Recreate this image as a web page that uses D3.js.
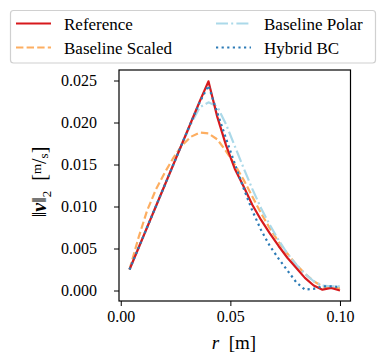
<!DOCTYPE html>
<html lang="en">
<head>
    <meta charset="UTF-8">
    <script src="https://cdn.jsdelivr.net/npm/d3@7"></script>
    <title>velocity profile</title>
    <style>body{margin:0;background:#fff;}</style>
</head>
<body>
    <svg width="386" height="361"></svg>
    <script>
        // radial positions [m]
        const radius = [0.004, 0.008, 0.012, 0.016, 0.020, 0.024, 0.028, 0.032, 0.036, 0.040,
                        0.044, 0.048, 0.052, 0.056, 0.060, 0.064, 0.068, 0.072, 0.076, 0.080,
                        0.084, 0.088, 0.092, 0.096, 0.100];

        // velocity magnitude [m/s]
        const reference = [0.0025, 0.0050, 0.0075, 0.0100, 0.0125, 0.0150, 0.0175, 0.0200, 0.0225, 0.0249,
                           0.0207, 0.0173, 0.0145, 0.0124, 0.0102, 0.0084, 0.0068, 0.0053, 0.0039, 0.0027,
                           0.0015, 0.0006, 0.0001, 0.0003, 0.0000];
        const baselineScaled = [0.0025, 0.0062, 0.0095, 0.0120, 0.0140, 0.0158, 0.0173, 0.0183, 0.0188, 0.0187,
                                0.0180, 0.0166, 0.0150, 0.0132, 0.0112, 0.0092, 0.0074, 0.0058, 0.0044, 0.0031,
                                0.0020, 0.0011, 0.0005, 0.0003, 0.0003];
        const baselinePolar = [0.0025, 0.0050, 0.0075, 0.0100, 0.0125, 0.0150, 0.0175, 0.0198, 0.0218, 0.0224,
                               0.0219, 0.0198, 0.0172, 0.0146, 0.0121, 0.0098, 0.0078, 0.0060, 0.0044, 0.0031,
                               0.0020, 0.0011, 0.0006, 0.0005, 0.0005];
        const hybridBC = [0.0025, 0.0050, 0.0075, 0.0100, 0.0125, 0.0150, 0.0175, 0.0200, 0.0224, 0.0244,
                          0.0212, 0.0181, 0.0151, 0.0122, 0.0095, 0.0072, 0.0053, 0.0038, 0.0024, 0.0010,
                          0.0001, 0.0002, 0.0005, 0.0005, 0.0004];

        const xTicks = [0, 0.05, 0.10];
        const yTicks = [0, 0.005, 0.010, 0.015, 0.020, 0.025];

        // series: name, values, colour, dash pattern
        const series = [
            { name: 'Baseline Scaled', values: baselineScaled, color: '#fdae61', dash: '7.4 3.2' },
            { name: 'Baseline Polar', values: baselinePolar, color: '#abd9e9', dash: '12 3.2 2 3.2' },
            { name: 'Reference', values: reference, color: '#d7191c', dash: null },
            { name: 'Hybrid BC', values: hybridBC, color: '#2c7bb6', dash: '2.2 3.4' }
        ];

        const serif = '"Liberation Serif"';

        const svg = d3.select('svg');
        const box = { left: 119, right: 350.5, top: 70, bottom: 301 };

        // matplotlib-like 5% margins
        const xScale = d3.scaleLinear()
            .domain([-0.0008, 0.1048])
            .range([box.left, box.right]);
        const yScale = d3.scaleLinear()
            .domain([-0.00125, 0.02625])
            .range([box.bottom, box.top]);

        // axes
        const xAxis = svg.append('g')
            .attr('transform', `translate(0,${box.bottom})`)
            .call(d3.axisBottom(xScale).tickValues(xTicks).tickFormat(d3.format('.2f')).tickSizeOuter(0).tickSize(5).tickPadding(5));
        const yAxis = svg.append('g')
            .attr('transform', `translate(${box.left},0)`)
            .call(d3.axisLeft(yScale).tickValues(yTicks).tickFormat(d3.format('.3f')).tickSizeOuter(0).tickSize(5).tickPadding(17));
        [xAxis, yAxis].forEach(a => {
            a.select('.domain').remove();
            a.selectAll('line').attr('stroke', '#000').attr('stroke-width', 1);
            a.selectAll('text')
                .attr('fill', '#000')
                .style('font-family', serif)
                .style('font-size', '16px');
        });

        // frame
        svg.append('rect')
            .attr('x', box.left).attr('y', box.top)
            .attr('width', box.right - box.left).attr('height', box.bottom - box.top)
            .attr('fill', 'none').attr('stroke', '#000').attr('stroke-width', 1.2);

        // lines
        const line = d3.line()
            .x((d, i) => xScale(radius[i]))
            .y(d => yScale(d));

        series.forEach(s => {
            svg.append('path')
                .attr('d', line(s.values))
                .attr('fill', 'none')
                .attr('stroke', s.color)
                .attr('stroke-width', 2.2)
                .attr('stroke-linejoin', 'round')
                .attr('stroke-dasharray', s.dash);
        });

        // axis labels
        const xl = svg.append('text')
            .attr('x', 234).attr('y', 349)
            .attr('text-anchor', 'middle')
            .style('font-family', serif)
            .style('font-size', '19px');
        xl.append('tspan').attr('font-style', 'italic').text('r');
        xl.append('tspan').text('\u2002[m]');

        const yl = svg.append('text')
            .attr('transform', 'translate(46,182) rotate(-90)')
            .attr('text-anchor', 'middle')
            .style('font-family', serif)
            .style('font-size', '20px');
        yl.append('tspan').text('\u2016');
        yl.append('tspan').attr('font-weight', 'bold').attr('font-style', 'italic').text('v');
        yl.append('tspan').text('\u2016');
        yl.append('tspan').style('font-size', '13px').attr('dy', 5).text('2');
        yl.append('tspan').attr('dy', -5).text('\u2002[');
        yl.append('tspan').style('font-size', '13px').attr('dy', -5).text('m');
        yl.append('tspan').attr('dy', 5).text('/');
        yl.append('tspan').style('font-size', '13px').attr('dy', 2).text('s');
        yl.append('tspan').attr('dy', -2).text(']');

        // legend
        const legendOrder = ['Reference', 'Baseline Scaled', 'Baseline Polar', 'Hybrid BC'];
        const legend = svg.append('g');
        legend.append('rect')
            .attr('x', 10.5).attr('y', 10.5).attr('width', 365).attr('height', 52.5)
            .attr('rx', 3)
            .attr('fill', '#fff').attr('stroke', '#d0d0d0').attr('stroke-width', 1.2);
        legendOrder.forEach((name, i) => {
            const s = series.find(d => d.name === name);
            const col = Math.floor(i / 2), row = i % 2;
            const x0 = col === 0 ? 16 : 216;
            const y0 = row === 0 ? 23.5 : 47.5;
            legend.append('line')
                .attr('x1', x0).attr('x2', x0 + 35)
                .attr('y1', y0).attr('y2', y0)
                .attr('stroke', s.color).attr('stroke-width', 2.2)
                .attr('stroke-dasharray', s.dash);
            legend.append('text')
                .attr('x', x0 + 48).attr('y', y0 + 6)
                .style('font-family', serif)
                .style('font-size', '17px')
                .text(name);
        });
    </script>
</body>
</html>
